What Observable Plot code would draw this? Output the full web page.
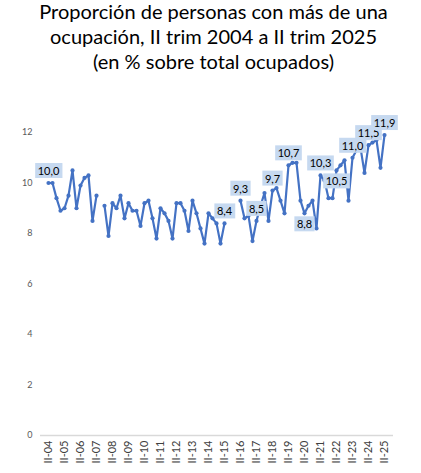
<!DOCTYPE html>
<html>
<head>
<meta charset="utf-8">
<script src="https://cdn.jsdelivr.net/npm/d3@7"></script>
<script src="https://cdn.jsdelivr.net/npm/@observablehq/plot@0.6"></script>
<style>
  body { margin: 0; background: #fff; font-family: Lato, sans-serif; }
  #titulo { height: 80px; text-align: center; font-size: 20px; line-height: 25px; color: #000; }
  #titulo div { position: relative; top: -1px; left: 3px; }
</style>
</head>
<body>
<div id="titulo"><div>Proporción de personas con más de una<br>ocupación, II trim 2004 a II trim 2025<br>(en % sobre total ocupados)</div></div>
<div id="chart"></div>
<script>
// trimestres (categorias del eje x)
const trimestres = [
  'II-04', 'III-04', 'IV-04',
  'I-05', 'II-05', 'III-05', 'IV-05',
  'I-06', 'II-06', 'III-06', 'IV-06',
  'I-07', 'II-07', 'III-07', 'IV-07',
  'I-08', 'II-08', 'III-08', 'IV-08',
  'I-09', 'II-09', 'III-09', 'IV-09',
  'I-10', 'II-10', 'III-10', 'IV-10',
  'I-11', 'II-11', 'III-11', 'IV-11',
  'I-12', 'II-12', 'III-12', 'IV-12',
  'I-13', 'II-13', 'III-13', 'IV-13',
  'I-14', 'II-14', 'III-14', 'IV-14',
  'I-15', 'II-15', 'III-15', 'IV-15',
  'I-16', 'II-16', 'III-16', 'IV-16',
  'I-17', 'II-17', 'III-17', 'IV-17',
  'I-18', 'II-18', 'III-18', 'IV-18',
  'I-19', 'II-19', 'III-19', 'IV-19',
  'I-20', 'II-20', 'III-20', 'IV-20',
  'I-21', 'II-21', 'III-21', 'IV-21',
  'I-22', 'II-22', 'III-22', 'IV-22',
  'I-23', 'II-23', 'III-23', 'IV-23',
  'I-24', 'II-24', 'III-24', 'IV-24',
  'I-25', 'II-25'
]

// % de ocupados con mas de una ocupacion (null = sin dato)
const valores = [
  10.0, 10.0, 9.4,
  8.9, 9.0, 9.5, 10.5,
  9.0, 9.9, 10.2, 10.3,
  8.5, 9.5, null, 9.1,
  7.9, 9.2, 9.0, 9.5,
  8.6, 9.2, 8.9, 8.9,
  8.3, 9.2, 9.3, 8.6,
  7.8, 9.0, 8.8, 8.5,
  7.8, 9.2, 9.2, 8.9,
  8.1, 9.3, 8.8, 8.2,
  7.6, 8.8, 8.6, 8.4,
  7.6, 8.4, null, null,
  null, 9.3, 8.6, 8.7,
  7.7, 8.5, 9.1, 9.6,
  8.5, 9.7, 9.8, 9.3,
  8.8, 10.7, 10.8, 10.8,
  9.3, 8.8, 9.1, 9.3,
  8.2, 10.3, 10.1, 9.4,
  9.4, 10.5, 10.7, 10.9,
  9.3, 11.0, 11.3, 11.4,
  10.4, 11.5, 11.6, 11.7,
  10.6, 11.9
]

const ticksX = ['II-04', 'II-05', 'II-06', 'II-07', 'II-08', 'II-09', 'II-10', 'II-11', 'II-12', 'II-13', 'II-14',
  'II-15', 'II-16', 'II-17', 'II-18', 'II-19', 'II-20', 'II-21', 'II-22', 'II-23', 'II-24', 'II-25']
const ticksY = [0, 2, 4, 6, 8, 10, 12]

// trimestres con etiqueta de dato
const etiquetasArriba = ['II-04', 'II-15', 'II-16', 'II-17', 'II-18', 'II-19', 'II-21', 'II-23', 'II-24', 'II-25']
const etiquetasAbajo = ['II-20', 'II-22']

const datos = trimestres.map((t, i) => ({trimestre: t, valor: valores[i]}))
const coma = v => d3.format('.1f')(v).replace('.', ',')
const azul = '#4472C4'

let chart = Plot.plot({
  width: 421,
  height: 393,
  marginTop: 52,
  marginBottom: 38,
  marginLeft: 42,
  marginRight: 31,
  style: {fontFamily: 'Lato, sans-serif', background: 'white', overflow: 'visible'},
  x: {type: 'point', domain: trimestres, padding: 0, axis: null, label: null},
  y: {domain: [0, 12], axis: null, label: null},
  marks: [
    Plot.ruleY([0], {stroke: '#d9d9d9', strokeWidth: 1.5, insetLeft: -2, insetRight: -3}),
    Plot.axisY(ticksY, {tickSize: 0, tickPadding: 10, fontSize: 9, fill: '#595959', label: null}),
    Plot.axisX(ticksX, {tickSize: 0, tickPadding: 5, tickRotate: -90, fontSize: 11, fill: '#404040', label: null}),
    Plot.line(datos, {x: 'trimestre', y: 'valor', stroke: azul, strokeWidth: 2.2}),
    Plot.dot(datos, {x: 'trimestre', y: 'valor', r: 2.1, fill: azul}),
    Plot.text(datos.filter(d => etiquetasArriba.includes(d.trimestre)), {
      x: 'trimestre', y: 'valor', text: d => coma(d.valor), dy: -11.5, fontSize: 11, fill: '#000'
    }),
    Plot.text(datos.filter(d => etiquetasAbajo.includes(d.trimestre)), {
      x: 'trimestre', y: 'valor', text: d => coma(d.valor), dy: 11.5, fontSize: 11, fill: '#000'
    })
  ]
})

d3.select('#chart').append(() => chart)

// fondo celeste de las etiquetas (los textos con coma decimal)
d3.select(chart).selectAll('text').filter(function () { return /^\d+,\d$/.test(this.textContent) }).each(function () {
  const b = this.getBBox()
  d3.select(this.parentNode).insert('rect', () => this)
    .attr('x', b.x - 2.5).attr('y', b.y - 1)
    .attr('width', b.width + 5).attr('height', b.height + 2)
    .attr('fill', '#c6d9f0')
    .attr('transform', this.getAttribute('transform'))
})
</script>
</body>
</html>
